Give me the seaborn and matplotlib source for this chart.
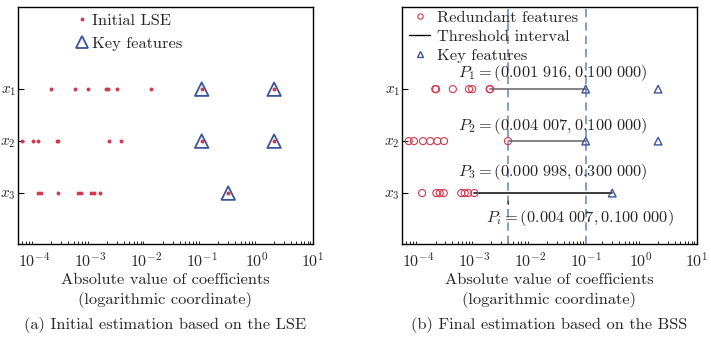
import numpy as np
import pandas as pd
import matplotlib
matplotlib.use("Agg")
import matplotlib.pyplot as plt
import seaborn as sns
from matplotlib.lines import Line2D

sns.set_theme(style="white")
plt.rcParams["font.family"] = ["cmr10", "DejaVu Serif"]
plt.rcParams["mathtext.fontset"] = "cm"
plt.rcParams["axes.formatter.use_mathtext"] = True
plt.rcParams["axes.unicode_minus"] = False

# ---------------- data ----------------
features = ["$x_1$", "$x_2$", "$x_3$"]
feature_pos = [3, 2, 1]

lse_x1 = [1.96e-4, 5.3e-4, 9.2e-4, 1.88e-3, 2.1e-3, 3.0e-3, 1.22e-2, 0.1, 2.0]
lse_x2 = [6.0e-5, 9.4e-5, 1.16e-4, 2.48e-4, 2.65e-4, 2.19e-3, 3.55e-3, 0.1, 2.0]
lse_x3 = [1.13e-4, 1.30e-4, 2.59e-4, 5.9e-4, 6.8e-4, 1.02e-3, 1.17e-3, 1.49e-3, 0.3]

key_x1 = [0.1, 2.0]
key_x2 = [0.1, 2.0]
key_x3 = [0.3]

red_x1 = [1.98e-4, 2.05e-4, 4.1e-4, 8.0e-4, 9.1e-4, 1.88e-3, 1.916e-3]
red_x2 = [6.6e-5, 8.2e-5, 1.19e-4, 1.6e-4, 2.16e-4, 2.85e-4, 4.007e-3]
red_x3 = [1.15e-4, 2.07e-4, 2.38e-4, 2.81e-4, 5.8e-4, 6.7e-4, 7.7e-4, 9.98e-4]

thr_low = [0.001916, 0.004007, 0.000998]
thr_high = [0.1, 0.1, 0.3]
p_labels = ["$P_1 = (0.001\\ 916, 0.100\\ 000)$",
            "$P_2 = (0.004\\ 007, 0.100\\ 000)$",
            "$P_3 = (0.000\\ 998, 0.300\\ 000)$"]
pi_label = "$P_i = (0.004\\ 007, 0.100\\ 000)$"
pi_value = 0.004007
pi_high = 0.1

captions = ["(a) Initial estimation based on the LSE",
            "(b) Final estimation based on the BSS"]
xlabel = "Absolute value of coefficients\n(logarithmic coordinate)"

RED = "#d3394f"
BLUE = "#3b559a"
DASH = "#6f8fb5"
FS = 11.8
TFS = 11.5


def long_df(lists):
    rows = []
    for name, pos, vals in zip(features, feature_pos, lists):
        for v in vals:
            rows.append({"feature": name, "y": pos, "value": v})
    return pd.DataFrame(rows)


df_lse = long_df([lse_x1, lse_x2, lse_x3])
df_key = long_df([key_x1, key_x2, key_x3])
df_red = long_df([red_x1, red_x2, red_x3])

fig = plt.figure(figsize=(7.11, 3.39), dpi=100)
axA = fig.add_axes([0.0253, 0.2802, 0.4149, 0.6991])
axB = fig.add_axes([0.5654, 0.2802, 0.4149, 0.6991])


def style_axis(ax):
    ax.set_xscale("log")
    ax.set_xlim(5e-5, 10)
    ax.set_ylim(0.02, 4.58)
    ax.set_yticks(feature_pos)
    ax.set_yticklabels(features)
    ax.set_xticks([1e-4, 1e-3, 1e-2, 1e-1, 1e0, 1e1])
    ax.tick_params(axis="both", which="major", direction="in", length=4,
                   width=0.8, labelsize=TFS, color="black", pad=5)
    ax.tick_params(axis="x", which="minor", direction="in", length=2.5,
                   width=0.6, color="black", bottom=True)
    ax.tick_params(axis="y", which="major", left=True, pad=1.5, labelsize=TFS - 0.5)
    for s in ax.spines.values():
        s.set_color("black")
        s.set_linewidth(1.0)
    ax.set_xlabel(xlabel, fontsize=FS, labelpad=3, linespacing=1.4)
    ax.set_ylabel("")
    ax.grid(False)


# ---------------- panel (a) ----------------
sns.scatterplot(data=df_key, x="value", y="y", ax=axA, marker="^", s=95,
                facecolor="none", edgecolor=BLUE, linewidth=1.3, legend=False, zorder=3)
sns.scatterplot(data=df_lse, x="value", y="y", ax=axA, marker="o", s=8,
                color=RED, linewidth=0, legend=False, zorder=4)
style_axis(axA)
hA = [Line2D([], [], marker="o", ls="none", color=RED, markersize=2.8, markeredgewidth=0),
      Line2D([], [], marker="^", ls="none", markerfacecolor="none",
             markeredgecolor=BLUE, markersize=9, markeredgewidth=1.3)]
axA.legend(hA, ["Initial LSE", "Key features"], loc="upper left",
           bbox_to_anchor=(0.16, 1.02), frameon=False, fontsize=FS,
           handlelength=0.7, handletextpad=0.25, labelspacing=0.5, borderpad=0.2)

# ---------------- panel (b) ----------------
for xl in [pi_value, pi_high]:
    axB.axvline(xl, color=DASH, ls=(0, (5, 3)), lw=1.2, zorder=1)
line_cols = ["#6e6e6e", "#6e6e6e", "#1a1a1a"]
for pos, lo, hi, c in zip(feature_pos, thr_low, thr_high, line_cols):
    axB.plot([lo, hi], [pos, pos], color=c, lw=1.2, zorder=2)
sns.scatterplot(data=df_red, x="value", y="y", ax=axB, marker="o", s=26,
                facecolor="none", edgecolor=RED, linewidth=0.8, legend=False, zorder=3)
sns.scatterplot(data=df_key, x="value", y="y", ax=axB, marker="^", s=30,
                facecolor="none", edgecolor=BLUE, linewidth=1.0, legend=False, zorder=4)
style_axis(axB)

p_text_y = [3.31, 2.29, 1.40]
for lab, yy in zip(p_labels, p_text_y):
    axB.text(0.026, yy, lab, fontsize=FS, ha="center", va="center", zorder=5)
axB.annotate(pi_label, xy=(pi_value, 0.85), xytext=(0.08, 0.52),
             fontsize=FS, ha="center", va="center",
             arrowprops=dict(arrowstyle="-", color="black", lw=0.6,
                             shrinkA=0, shrinkB=0, relpos=(0.12, 0.8)))

hB = [Line2D([], [], marker="o", ls="none", markerfacecolor="none",
             markeredgecolor=RED, markersize=3.8, markeredgewidth=0.8),
      Line2D([], [], color="black", lw=1.0),
      Line2D([], [], marker="^", ls="none", markerfacecolor="none",
             markeredgecolor=BLUE, markersize=4.5, markeredgewidth=1.0)]
axB.legend(hB, ["Redundant features", "Threshold interval", "Key features"],
           loc="upper left", bbox_to_anchor=(-0.015, 1.035), frameon=False,
           fontsize=FS, handlelength=1.3, handletextpad=0.4, labelspacing=0.28,
           borderpad=0.2)

# captions
fig.text(0.2327, 0.04, captions[0], ha="center", va="center", fontsize=FS)
fig.text(0.7728, 0.04, captions[1], ha="center", va="center", fontsize=FS)

fig.savefig("out.png", dpi=100)
